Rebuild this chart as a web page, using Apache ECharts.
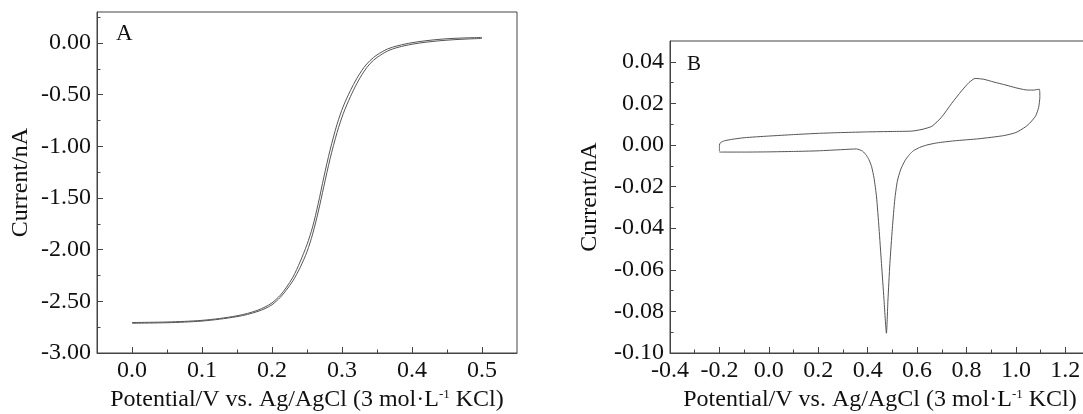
<!DOCTYPE html>
<html><head><meta charset="utf-8">
<script src="https://cdn.jsdelivr.net/npm/echarts@6/dist/echarts.min.js"></script>
<style>html,body{margin:0;padding:0;background:#fff}#c{width:1083px;height:414px}</style>
</head><body><div id="c"></div>
<script>
// ---------- Panel A: hydrodynamic voltammogram (two scans) ----------
const aFwdX = [0.000,0.025,0.050,0.075,0.100,0.125,0.150,0.165,0.180,0.190,0.200,0.212,0.220,0.230,0.240,0.250,0.258,0.266,0.274,0.283,0.293,0.302,0.312,0.321,0.331,0.340,0.350,0.365,0.380,0.400,0.420,0.440,0.460,0.480,0.500];
const aFwdY = [-2.705,-2.703,-2.700,-2.694,-2.684,-2.666,-2.640,-2.617,-2.585,-2.555,-2.515,-2.440,-2.370,-2.265,-2.120,-1.950,-1.780,-1.555,-1.300,-1.035,-0.785,-0.610,-0.460,-0.345,-0.240,-0.170,-0.115,-0.058,-0.026,0.003,0.022,0.036,0.045,0.050,0.054];
const aRevX = [0.500,0.480,0.460,0.440,0.420,0.400,0.380,0.365,0.350,0.340,0.331,0.321,0.312,0.302,0.293,0.283,0.274,0.266,0.258,0.250,0.240,0.230,0.220,0.212,0.200,0.190,0.180,0.165,0.150,0.125,0.100,0.075,0.050,0.025,0.000];
const aRevY = [0.044,0.039,0.032,0.022,0.008,-0.012,-0.042,-0.078,-0.140,-0.200,-0.280,-0.395,-0.520,-0.680,-0.865,-1.120,-1.390,-1.635,-1.850,-2.020,-2.175,-2.300,-2.395,-2.460,-2.533,-2.570,-2.597,-2.627,-2.648,-2.673,-2.691,-2.701,-2.707,-2.710,-2.712];
const aXTicks = [0.0,0.1,0.2,0.3,0.4,0.5];
const aXMinor = [0.05,0.15,0.25,0.35,0.45];
const aYTicks = [0.0,-0.5,-1.0,-1.5,-2.0,-2.5,-3.0];
const aYMinor = [0.25,-0.25,-0.75,-1.25,-1.75,-2.25,-2.75];

// ---------- Panel B: cyclic voltammogram ----------
const bX = [-0.200,-0.200,-0.195,-0.180,-0.150,-0.100,0.000,0.100,0.200,0.300,0.400,0.500,0.580,0.620,0.660,0.700,0.740,0.780,0.810,0.835,0.870,0.910,0.960,1.000,1.040,1.070,1.095,
            1.097,1.092,1.080,1.060,1.040,1.000,0.950,0.850,0.750,0.680,0.640,0.610,0.585,0.570,0.551,0.533,0.520,0.510,0.500,0.490,0.482,0.476,0.466,0.456,0.446,0.436,0.426,0.416,0.405,0.395,0.380,0.355,0.300,0.200,0.100,0.000,-0.100,-0.200];
const bY = [-0.0030,0.0000,0.0012,0.0020,0.0027,0.0035,0.0043,0.0050,0.0056,0.0060,0.0063,0.0065,0.0067,0.0075,0.0090,0.0135,0.0200,0.0260,0.0300,0.0320,0.0316,0.0303,0.0288,0.0275,0.0265,0.0264,0.0268,
            0.0230,0.0180,0.0140,0.0110,0.0088,0.0060,0.0045,0.0030,0.0020,0.0010,0.0000,-0.0012,-0.0028,-0.0045,-0.0075,-0.0120,-0.0175,-0.0260,-0.0400,-0.0570,-0.0750,-0.0905,-0.0740,-0.0570,-0.0400,-0.0250,-0.0160,-0.0104,-0.0070,-0.0050,-0.0030,-0.0019,-0.0022,-0.0028,-0.0031,-0.0033,-0.0034,-0.0034];
const bXTicks = [-0.4,-0.2,0.0,0.2,0.4,0.6,0.8,1.0,1.2];
const bXMinor = [-0.3,-0.1,0.1,0.3,0.5,0.7,0.9,1.1];
const bYTicks = [0.04,0.02,0.00,-0.02,-0.04,-0.06,-0.08,-0.10];
const bYMinor = [0.03,0.01,-0.01,-0.03,-0.05,-0.07,-0.09];

const xTitle = 'Potential/V vs. Ag/AgCl (3 mol·L{sup|-1} KCl)';
const yTitle = 'Current/nA';

const FONT = 'Liberation Serif';
const AX = '#444';
const LINE = '#555';
const LBL = 24;
const NAME = 24;

function fmt(d){ return v => { const s = Number(v).toFixed(d); return s.replace(/^-(0\.0+)$/, '$1'); }; }

function majorX(grid, min, max, ticks, d){
  return {
    type:'value', gridIndex:grid, min, max, position:'bottom',
    axisLine:{show:true, onZero:false, lineStyle:{color:AX, width:1}},
    axisTick:{show:true, inside:true, length:6, customValues:ticks, lineStyle:{color:AX}},
    axisLabel:{show:true, customValues:ticks, formatter:fmt(d), color:'#111', fontFamily:FONT, fontSize:LBL, margin:6},
    splitLine:{show:false},
    name: xTitle, nameLocation:'middle', nameGap:31,
    nameTextStyle:{color:'#111', fontFamily:FONT, fontSize:NAME,
      rich:{sup:{fontFamily:FONT, fontSize:13, verticalAlign:'top', color:'#111'}}}
  };
}
function minorX(grid, min, max, ticks){
  return {
    type:'value', gridIndex:grid, min, max, position:'bottom',
    axisLine:{show:false, onZero:false},
    axisTick:{show:true, inside:true, length:3.5, customValues:ticks, lineStyle:{color:AX}},
    axisLabel:{show:false}, splitLine:{show:false}
  };
}
function majorY(grid, min, max, ticks, d, gap){
  return {
    type:'value', gridIndex:grid, min, max, position:'left',
    axisLine:{show:true, onZero:false, lineStyle:{color:AX, width:1}},
    axisTick:{show:true, inside:true, length:6, customValues:ticks, lineStyle:{color:AX}},
    axisLabel:{show:true, customValues:ticks, formatter:fmt(d), color:'#111', fontFamily:FONT, fontSize:LBL, margin:6},
    splitLine:{show:false},
    name: yTitle, nameLocation:'middle', nameGap:gap, nameRotate:90,
    nameTextStyle:{color:'#111', fontFamily:FONT, fontSize:NAME}
  };
}
function minorY(grid, min, max, ticks){
  return {
    type:'value', gridIndex:grid, min, max, position:'left',
    axisLine:{show:false, onZero:false},
    axisTick:{show:true, inside:true, length:3.5, customValues:ticks, lineStyle:{color:AX}},
    axisLabel:{show:false}, splitLine:{show:false}
  };
}

const zip = (xs, ys) => xs.map((x,i)=>[x, ys[i]]);

const chart = echarts.init(document.getElementById('c'), null, {renderer:'canvas'});
chart.setOption({
  animation:false,
  backgroundColor:'#fff',
  title:[
    {text:'A', left:111, top:17, textStyle:{fontFamily:FONT, fontSize:23, fontWeight:'normal', color:'#111'}},
    {text:'B', left:682, top:49, textStyle:{fontFamily:FONT, fontSize:21, fontWeight:'normal', color:'#111'}}
  ],
  grid:[
    {left:97, top:12, right:566, bottom:61, show:true, borderColor:AX, borderWidth:1, backgroundColor:'transparent', containLabel:false, outerBoundsMode:'none'},
    {left:670, top:41, right:-7, bottom:61, show:true, borderColor:AX, borderWidth:1, backgroundColor:'transparent', containLabel:false, outerBoundsMode:'none'}
  ],
  xAxis:[
    majorX(0, -0.05, 0.55, aXTicks, 1),
    minorX(0, -0.05, 0.55, aXMinor),
    majorX(1, -0.4, 1.3, bXTicks, 1),
    minorX(1, -0.4, 1.3, bXMinor)
  ],
  yAxis:[
    majorY(0, -3.0, 0.3, aYTicks, 2, 64),
    minorY(0, -3.0, 0.3, aYMinor),
    majorY(1, -0.10, 0.05, bYTicks, 2, 68),
    minorY(1, -0.10, 0.05, bYMinor)
  ],
  series:[
    {type:'line', xAxisIndex:0, yAxisIndex:0, data:zip(aFwdX, aFwdY), showSymbol:false, smooth:0.3,
     lineStyle:{color:LINE, width:1}},
    {type:'line', xAxisIndex:0, yAxisIndex:0, data:zip(aRevX, aRevY), showSymbol:false, smooth:0.3,
     lineStyle:{color:LINE, width:1}},
    {type:'line', xAxisIndex:2, yAxisIndex:2, data:zip(bX, bY), showSymbol:false, smooth:0.2,
     lineStyle:{color:LINE, width:1}}
  ]
});
</script>
</body></html>
